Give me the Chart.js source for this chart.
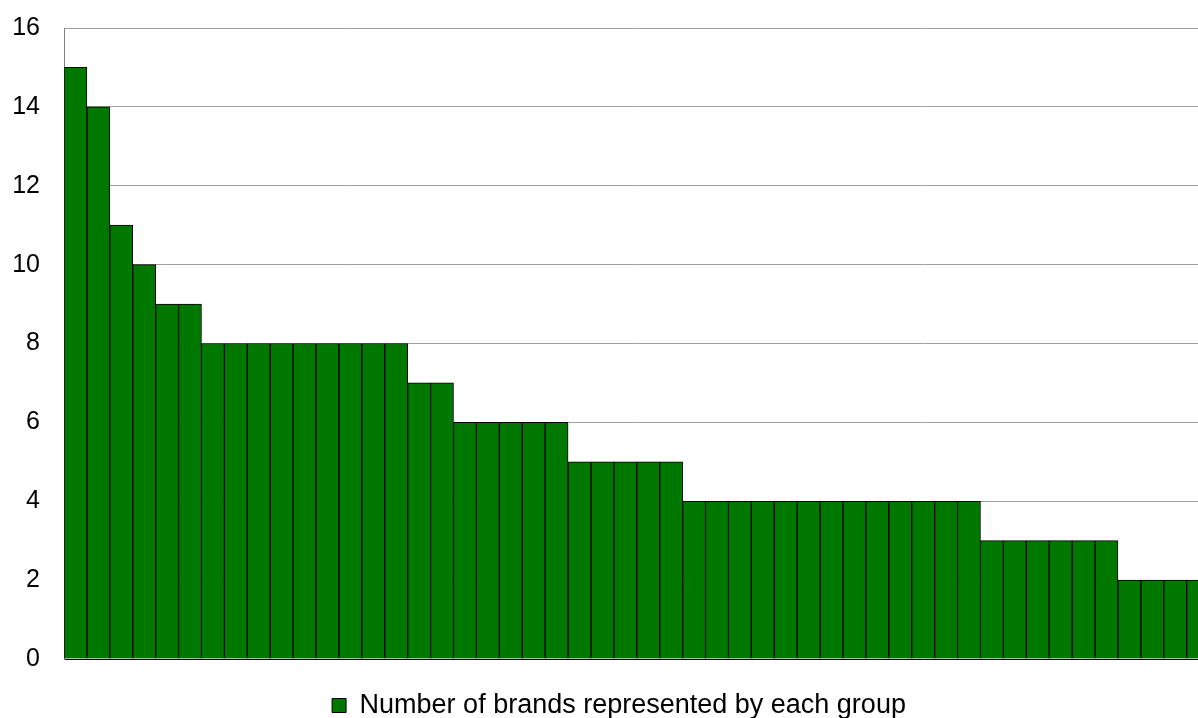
<!DOCTYPE html>
<html>
<head>
<meta charset="utf-8">
<script src="https://cdn.jsdelivr.net/npm/chart.js@4"></script>
<style>
  html, body { margin: 0; padding: 0; background: #fff; overflow: hidden; }
  #wrap { width: 1238px; height: 729px; }
</style>
</head>
<body>
<div id="wrap"><canvas id="brandsChart" width="1238" height="729"></canvas></div>
<script>
// Number of brands per group, sorted high to low (last bar is cut off at the right edge)
const brandCounts = [
  15, 14, 11, 10, 9, 9,
  8, 8, 8, 8, 8, 8, 8, 8, 8,
  7, 7,
  6, 6, 6, 6, 6,
  5, 5, 5, 5, 5,
  4, 4, 4, 4, 4, 4, 4, 4, 4, 4, 4, 4, 4,
  3, 3, 3, 3, 3, 3,
  2, 2, 2, 2
];
const groups = brandCounts.map((v, i) => 'Group ' + (i + 1));
const yTicks = [0, 2, 4, 6, 8, 10, 12, 14, 16];
const seriesName = 'Number of brands represented by each group';

const font = 'Liberation Sans, Arial, sans-serif';

const brandsGraph = document.getElementById('brandsChart');

const configBrands = {
  type: 'bar',
  data: {
    labels: groups,
    datasets: [{
      label: seriesName,
      data: brandCounts,
      backgroundColor: '#007800',
      borderColor: '#000000',
      borderWidth: 1,
      categoryPercentage: 1.0,
      barPercentage: 1.0
    }]
  },
  options: {
    responsive: false,
    animation: false,
    layout: {
      padding: { top: 28, right: 0, left: 0, bottom: 0 }
    },
    plugins: {
      tooltip: { enabled: false },
      legend: {
        position: 'bottom',
        labels: {
          color: '#000',
          boxWidth: 14,
          boxHeight: 14,
          padding: 10,
          font: { family: font, size: 27 }
        }
      }
    },
    scales: {
      x: {
        ticks: { display: false },
        grid: { display: false },
        border: { display: true, color: '#000', width: 1 },
        afterFit: (scale) => { scale.height = 23; }
      },
      y: {
        min: yTicks[0],
        max: yTicks[yTicks.length - 1],
        afterBuildTicks: (scale) => { scale.ticks = yTicks.map(v => ({ value: v })); },
        ticks: {
          color: '#000',
          padding: 24,
          font: { family: font, size: 25 }
        },
        grid: { color: '#a0a0a0', drawTicks: false, lineWidth: 1 },
        border: { display: true, color: '#808080', width: 1 },
        afterFit: (scale) => {
          scale.width = 64;
          scale.paddingTop = 0;
          scale.paddingBottom = 0;
        }
      },
      // empty spacer on the right so the legend sits where it does in the original
      spacer: {
        type: 'linear',
        position: 'right',
        ticks: { display: false },
        grid: { display: false },
        border: { display: false },
        afterFit: (scale) => {
          scale.width = 28.4;
          scale.paddingTop = 0;
          scale.paddingBottom = 0;
        }
      }
    }
  }
};

new Chart(brandsGraph, configBrands);
</script>
</body>
</html>
